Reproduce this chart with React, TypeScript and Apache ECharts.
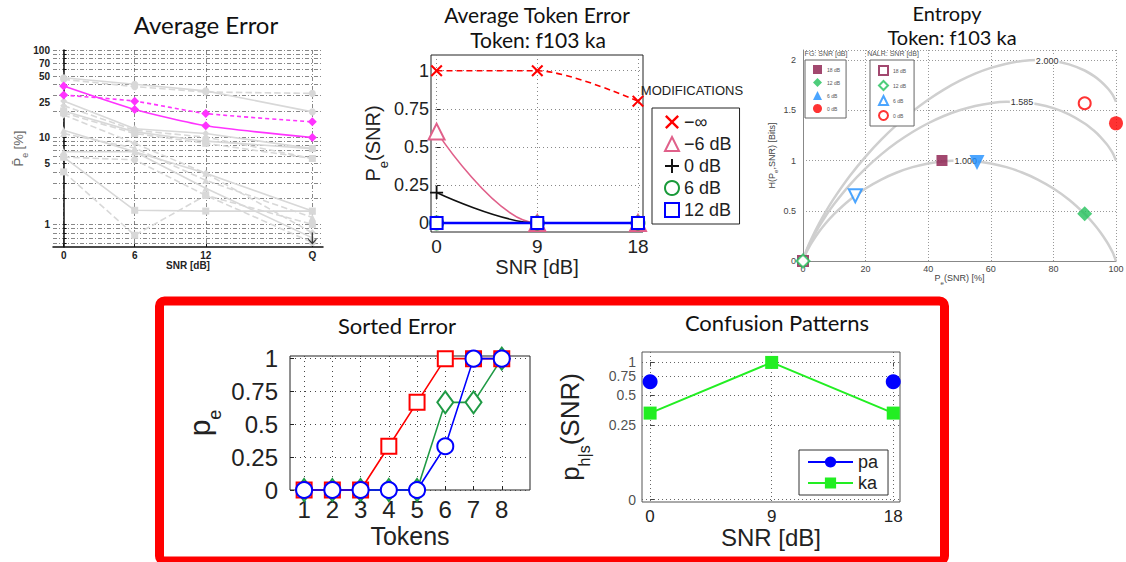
import React, { useEffect, useRef } from "react";
import * as echarts from "echarts";

// ---------------- Panel 1: Average Error ----------------
const avgSnr = [0, 6, 12, 21];
const avgSnrLabels = ["0", "6", "12", "Q"];
const avgYLabelTicks = [1, 5, 10, 25, 50, 70, 100];
const avgGridTicks = [0.6, 0.7, 0.8, 0.9, 1, 2, 3, 4, 5, 6, 7, 8, 9, 10, 20, 30, 40, 50, 60, 70, 80, 90, 100];
const avgMagentaSolid = [38.6, 20.8, 13.5, 9.9];
const avgMagentaDashed = [30.4, 25.9, 18.7, 15.0];
const avgGray1 = [48, 40.5, 34, 19.5];
const avgGray2 = [46, 38, 33, 31.8];
const avgGray3 = [26, 12.5, 11, 7.4];
const avgGray4 = [23, 12, 10, 5.7];
const avgGray5 = [20, 11.5, 9, 7.4];
const avgGray6 = [19, 11, 8.5, 5.7];
const avgGray7 = [12, 6.8, 3.85, 1.42];
const avgGray8 = [11, 7.5, 3.2, 1.2];
const avgGray9 = [6.8, 6.8, 2.6, 0.7];
const avgGray10 = [5.9, 5.5, 2.15, 0.62];
const avgGray11 = [5.9, 1.45, 1.42, 1.42];
const avgGray12 = [4.0, 0.75, 2.15, 1.0];
const avgGray13 = [18, 8.5, 3.85, 0.8];
const avgQuietArrow = [21, 0.69];

// ---------------- Panel 2: Average Token Error ----------------
const tokSnr = [0, 9, 18];
const tokTicks = [0, 0.25, 0.5, 0.75, 1];
const modInf = [1, 1, 0.8];
const modM6 = [0.6, 0, 0];
const mod0 = [0.2, 0, 0];
const mod6 = [0, 0, 0];
const mod12 = [0, 0, 0];

// ---------------- Panel 3: Entropy ----------------
const entX = [0, 1, 2, 3, 5, 7, 10, 15, 20, 25, 30, 35, 40, 45, 50, 55, 60, 65, 70, 75, 80, 85, 90, 93, 95, 97, 98, 99, 100];
const entH2 = [0, 0.081, 0.141, 0.194, 0.286, 0.366, 0.469, 0.61, 0.722, 0.811, 0.881, 0.934, 0.971, 0.993, 1.0, 0.993, 0.971, 0.934, 0.881, 0.811, 0.722, 0.61, 0.469, 0.366, 0.286, 0.194, 0.141, 0.081, 0];
const entH3 = [0, 0.091, 0.161, 0.224, 0.336, 0.436, 0.569, 0.76, 0.922, 1.061, 1.181, 1.284, 1.371, 1.443, 1.5, 1.543, 1.571, 1.584, 1.581, 1.561, 1.522, 1.46, 1.369, 1.296, 1.236, 1.164, 1.121, 1.071, 1.0];
const entH4 = [0, 0.097, 0.173, 0.242, 0.365, 0.477, 0.628, 0.848, 1.039, 1.207, 1.357, 1.489, 1.605, 1.706, 1.792, 1.865, 1.922, 1.964, 1.991, 2.0, 1.99, 1.957, 1.896, 1.84, 1.792, 1.731, 1.694, 1.65, 1.585];
const entCurveLabels = ["1.000", "1.585", "2.000"];
const entLabelAt = [[52, 1.0], [70, 1.581], [78, 1.995]];
const fg18 = [44.4, 1.0];
const fg12 = [90, 0.47];
const fg6 = [55.6, 0.98];
const fg0 = [100, 1.37];
const nalr18 = [0, 0];
const nalr12 = [0, 0];
const nalr6 = [16.7, 0.65];
const nalr0 = [90, 1.57];

// ---------------- Panel 4: Sorted Error ----------------
const tokens = [1, 2, 3, 4, 5, 6, 7, 8];
const sortedRed = [0, 0, 0, 0.333, 0.667, 1, 1, 1];
const sortedGreen = [0, 0, 0, 0, 0, 0.667, 0.667, 1];
const sortedBlue = [0, 0, 0, 0, 0, 0.333, 1, 1];

// ---------------- Panel 5: Confusion Patterns ----------------
const confSnr = [0, 9, 18];
const confTicks = [0, 0.25, 0.5, 0.75, 1];
const confTickLabels = ["0", "0.25", "0.5", "0.75", "1"];
const confPa: (number | null)[] = [0.67, null, 0.67];
const confKa = [0.333, 1, 0.333];

const SANS = '"Liberation Sans", Arial, Helvetica, sans-serif';
const TITLE = 'Lato, "Open Sans", sans-serif';
const X_PATH = "path://M0,1.2L1.2,0L5,3.8L8.8,0L10,1.2L6.2,5L10,8.8L8.8,10L5,6.2L1.2,10L0,8.8L3.8,5Z";
const PLUS_PATH = "path://M4.3,0H5.7V4.3H10V5.7H5.7V10H4.3V5.7H0V4.3H4.3Z";
const ARROW_PATH = "path://M4.4,0H5.6V8.2L8.4,5.4L9.2,6.2L5,10.4L0.8,6.2L1.6,5.4L4.4,8.2Z";

const C_OFF = 0.08;
const tr = (p: number) => Math.log10(p + C_OFF);
const CONF_X_MIN = -0.6;
const confLabelNudge = [0, 0, 1, 0, -2];

const pairs = (xs: number[], ys: (number | null)[]) =>
  xs.map((x, i) => (ys[i] === null ? [x, "-"] : [x, ys[i]]));

const subRich = (main: number, sub: number, color: string, drop: number) => ({
  a: { fontSize: main, fontFamily: SANS, color, verticalAlign: "bottom", padding: [0, 0, drop, 0] },
  s: { fontSize: sub, fontFamily: SANS, color, verticalAlign: "bottom", padding: [0, 0, 0, 0] },
});

function buildOption() {
  const grayData = [avgGray1, avgGray2, avgGray3, avgGray4, avgGray5, avgGray6, avgGray7, avgGray8, avgGray9, avgGray10, avgGray11, avgGray12, avgGray13];
  const grayLine = ["solid", "dashed", "solid", "dashed", "solid", "dashed", "solid", "dashed", "solid", "dashed", "solid", "dashed", "dashed"];
  const graySym = ["circle", "circle", "diamond", "diamond", "rect", "rect", "triangle", "triangle", "triangle", "circle", "rect", "rect", "diamond"];
  const GRAY = "#d8d8d8";
  const MAG = "#ff33ff";

  const dashDot = { color: "#555", width: 0.7, type: [4, 2, 1, 2] as any };
  const dotted = { color: "#888", width: 1, type: [1, 3] as any };

  const series: any[] = [];

  grayData.forEach((vals, i) => {
    series.push({
      type: "line", xAxisIndex: 0, yAxisIndex: 0, silent: true, z: 2,
      data: pairs(avgSnr, vals), symbol: graySym[i], symbolSize: 7,
      lineStyle: { color: GRAY, width: 1.6, type: grayLine[i] },
      itemStyle: { color: GRAY },
    });
  });
  series.push({
    type: "line", xAxisIndex: 0, yAxisIndex: 0, z: 4, smooth: 0.2,
    data: pairs(avgSnr, avgMagentaSolid), symbol: "diamond", symbolSize: 9,
    lineStyle: { color: MAG, width: 1.6 }, itemStyle: { color: MAG },
  });
  series.push({
    type: "line", xAxisIndex: 0, yAxisIndex: 0, z: 4, smooth: 0.2,
    data: pairs(avgSnr, avgMagentaDashed), symbol: "diamond", symbolSize: 9,
    lineStyle: { color: MAG, width: 1.6, type: [4, 3] }, itemStyle: { color: MAG },
  });
  series.push({
    type: "scatter", xAxisIndex: 0, yAxisIndex: 0, z: 5,
    data: [avgQuietArrow], symbol: ARROW_PATH, symbolSize: [9, 12],
    itemStyle: { color: "#111" },
  });

  // Panel 2
  series.push({
    name: "−∞", type: "line", xAxisIndex: 1, yAxisIndex: 1, z: 3,
    data: pairs(tokSnr, modInf), symbol: X_PATH, symbolSize: 12, smooth: 0.3,
    lineStyle: { color: "#ff0000", width: 1.6, type: [6, 4] },
    itemStyle: { color: "#ff0000", borderWidth: 0 },
  });
  series.push({
    name: "−6 dB", type: "line", xAxisIndex: 1, yAxisIndex: 1, z: 3,
    data: pairs(tokSnr, modM6), symbol: "emptyTriangle", symbolSize: 16, smooth: 0.35,
    lineStyle: { color: "#e0608a", width: 1.6 },
    itemStyle: { color: "#e0608a", borderWidth: 1.5 },
  });
  series.push({
    name: "0 dB", type: "line", xAxisIndex: 1, yAxisIndex: 1, z: 3,
    data: pairs(tokSnr, mod0), symbol: PLUS_PATH, symbolSize: 13, smooth: 0.35,
    lineStyle: { color: "#111", width: 1.6 },
    itemStyle: { color: "#111", borderWidth: 0 },
  });
  series.push({
    name: "6 dB", type: "line", xAxisIndex: 1, yAxisIndex: 1, z: 3,
    data: pairs(tokSnr, mod6), symbol: "emptyCircle", symbolSize: 13,
    lineStyle: { color: "#1a9a3a", width: 1.6 },
    itemStyle: { color: "#1a9a3a", borderWidth: 1.5 },
  });
  series.push({
    name: "12 dB", type: "line", xAxisIndex: 1, yAxisIndex: 1, z: 4,
    data: pairs(tokSnr, mod12), symbol: "emptyRect", symbolSize: 12,
    lineStyle: { color: "#0000ff", width: 2.5 },
    itemStyle: { color: "#0000ff", borderWidth: 2 },
  });

  // Panel 3 curves
  [entH2, entH3, entH4].forEach((ys, i) => {
    series.push({
      type: "line", xAxisIndex: 2, yAxisIndex: 2, z: 2, silent: true,
      data: pairs(entX, ys), symbol: "none", smooth: 0.25,
      lineStyle: { color: "#cfcfcf", width: 2.5 },
      markPoint: {
        symbol: "rect", symbolSize: [1, 1], itemStyle: { color: "rgba(0,0,0,0)" },
        label: { show: true, position: "inside", formatter: entCurveLabels[i], fontSize: 9, color: "#333", fontFamily: SANS, backgroundColor: "#fff", padding: [0, 1] },
        data: [{ coord: entLabelAt[i] }],
      },
    });
  });
  const entPts = [
    { name: "FG 18 dB", d: fg18, sym: "rect", size: 11, color: "#8b1a4b", rot: 0 },
    { name: "FG 12 dB", d: fg12, sym: "diamond", size: 15, color: "#22c05a", rot: 0 },
    { name: "FG 6 dB", d: fg6, sym: "triangle", size: 15, color: "#1e8fff", rot: 180 },
    { name: "FG 0 dB", d: fg0, sym: "circle", size: 14, color: "#ff0000", rot: 0 },
    { name: "NALR 18 dB", d: nalr18, sym: "emptyRect", size: 10, color: "#8b1a4b", rot: 0 },
    { name: "NALR 12 dB", d: nalr12, sym: "emptyDiamond", size: 13, color: "#22c05a", rot: 0 },
    { name: "NALR 6 dB", d: nalr6, sym: "emptyTriangle", size: 13, color: "#1e8fff", rot: 180 },
    { name: "NALR 0 dB", d: nalr0, sym: "emptyCircle", size: 12, color: "#ff0000", rot: 0 },
  ];
  entPts.forEach((p) => {
    series.push({
      name: p.name, type: "scatter", xAxisIndex: 2, yAxisIndex: 2, z: 5,
      data: [p.d], symbol: p.sym, symbolSize: p.size, symbolRotate: p.rot,
      itemStyle: { color: p.color, borderColor: p.color, borderWidth: p.sym.startsWith("empty") ? 2 : 0 },
    });
  });

  // Panel 4
  const sortedDefs = [
    { d: sortedGreen, color: "#1f9a45", sym: "emptyDiamond", size: [16, 22] },
    { d: sortedRed, color: "#ff0000", sym: "emptyRect", size: 15 },
    { d: sortedBlue, color: "#0000ff", sym: "emptyCircle", size: 16 },
  ];
  sortedDefs.forEach((s, i) => {
    series.push({
      type: "line", xAxisIndex: 3, yAxisIndex: 3, z: 3 + i, clip: false,
      data: pairs(tokens, s.d), symbol: s.sym, symbolSize: s.size,
      lineStyle: { color: s.color, width: 1.6 },
      itemStyle: { color: s.color, borderWidth: 2.5 },
    });
  });

  // Panel 5
  series.push({
    name: "pa", type: "line", xAxisIndex: 4, yAxisIndex: 4, z: 4, clip: false,
    data: confSnr.map((x, i) => (confPa[i] === null ? [x, "-"] : [x, tr(confPa[i] as number)])),
    symbol: "circle", symbolSize: 15,
    lineStyle: { color: "#0000ff", width: 2 }, itemStyle: { color: "#0000ff" },
  });
  series.push({
    name: "ka", type: "line", xAxisIndex: 4, yAxisIndex: 4, z: 3, clip: false,
    data: confSnr.map((x, i) => [x, tr(confKa[i])]),
    symbol: "rect", symbolSize: 13,
    lineStyle: { color: "#22ee22", width: 2 }, itemStyle: { color: "#22ee22" },
  });
  // Panel 5 y tick labels, placed through the axis scale
  series.push({
    type: "scatter", xAxisIndex: 4, yAxisIndex: 4, z: 1, silent: true, clip: false,
    data: confTicks.map((t, i) => ({
      value: [CONF_X_MIN, tr(t)],
      label: { offset: [0, confLabelNudge[i]] },
    })),
    symbolSize: 0.01, itemStyle: { color: "rgba(0,0,0,0)" },
    label: {
      show: true, position: "left", distance: 6, fontSize: 14, color: "#222", fontFamily: SANS,
      formatter: (p: any) => confTickLabels[p.dataIndex],
    },
    labelLayout: { hideOverlap: false },
  });

  const nb = { outerBoundsMode: "none", containLabel: false };
  const grid = [
    { left: 53, top: 50, width: 270, height: 197, ...nb },
    { left: 431, top: 55, width: 212, height: 177, show: true, borderColor: "#222", borderWidth: 1, ...nb },
    { left: 803, top: 50, width: 313, height: 211, ...nb },
    { left: 290, top: 356, width: 240, height: 134, show: true, borderColor: "#222", borderWidth: 1, ...nb },
    { left: 642, top: 352, width: 258, height: 150, show: true, borderColor: "#555", borderWidth: 1, ...nb },
  ];

  const xAxis = [
    {
      gridIndex: 0, type: "value", min: -0.9, max: 21.9,
      axisLine: { show: true, onZero: false, lineStyle: { color: "#111", width: 1.5 } },
      axisTick: { show: true, inside: true, length: 3, customValues: avgSnr, lineStyle: { color: "#111" } },
      axisLabel: { customValues: avgSnr, formatter: (v: number) => avgSnrLabels[avgSnr.indexOf(v)] ?? String(v), fontSize: 10, fontWeight: "bold", color: "#222", fontFamily: SANS, margin: 3, hideOverlap: false },
      splitLine: { show: true, lineStyle: dashDot },
      name: "SNR [dB]", nameLocation: "middle", nameGap: 10,
      nameTextStyle: { fontSize: 10, fontWeight: "bold", color: "#222", fontFamily: SANS },
    },
    {
      gridIndex: 1, type: "value", min: -0.5, max: 18.45,
      axisLine: { show: false },
      axisTick: { show: true, inside: true, length: 4, customValues: tokSnr, lineStyle: { color: "#222" } },
      axisLabel: { customValues: tokSnr, fontSize: 19, color: "#222", fontFamily: SANS, margin: 5, hideOverlap: false },
      splitLine: { show: true, lineStyle: dotted },
      name: "SNR [dB]", nameLocation: "middle", nameGap: 22,
      nameTextStyle: { fontSize: 20, color: "#222", fontFamily: SANS },
    },
    {
      gridIndex: 2, type: "value", min: 0, max: 100, interval: 20,
      axisLine: { show: true, onZero: false, lineStyle: { color: "#888", width: 1 } },
      axisTick: { show: false },
      axisLabel: { fontSize: 9, color: "#444", fontFamily: SANS, margin: 3 },
      splitLine: { show: true, lineStyle: { color: "#999", width: 1, type: [1, 2] } },
      name: "{a|P}{s|e}{a|(SNR) [%]}", nameLocation: "middle", nameGap: 10,
      nameTextStyle: { color: "#444", fontFamily: SANS, rich: subRich(9, 6, "#444", 3) },
    },
    {
      gridIndex: 3, type: "value", min: 0.5, max: 9,
      axisLine: { show: false },
      axisTick: { show: true, inside: true, length: 4, customValues: tokens, lineStyle: { color: "#222" } },
      axisLabel: { customValues: tokens, fontSize: 24, color: "#222", fontFamily: SANS, margin: 7, hideOverlap: false },
      splitLine: { show: true, lineStyle: { color: "#444", width: 1, type: [1, 4] } },
      name: "Tokens", nameLocation: "middle", nameGap: 33,
      nameTextStyle: { fontSize: 25, color: "#222", fontFamily: SANS },
    },
    {
      gridIndex: 4, type: "value", min: CONF_X_MIN, max: 18.5,
      axisLine: { show: false },
      axisTick: { show: true, inside: true, length: 4, customValues: confSnr, lineStyle: { color: "#444" } },
      axisLabel: { customValues: confSnr, fontSize: 17, color: "#222", fontFamily: SANS, margin: 6, hideOverlap: false },
      splitLine: { show: true, lineStyle: { color: "#666", width: 1, type: [1, 3] } },
      name: "SNR [dB]", nameLocation: "middle", nameGap: 23,
      nameTextStyle: { fontSize: 24, color: "#222", fontFamily: SANS },
    },
  ];

  const yAxis = [
    {
      gridIndex: 0, type: "log", logBase: 10, min: 0.55, max: 100,
      axisLine: { show: true, lineStyle: { color: "#111", width: 1.5 } },
      axisTick: { show: true, inside: true, length: 3, customValues: avgGridTicks, lineStyle: { color: "#111" } },
      axisLabel: { customValues: avgYLabelTicks, formatter: (v: number) => String(Math.round(v)), fontSize: 10, fontWeight: "bold", color: "#222", fontFamily: SANS, margin: 3, hideOverlap: false },
      splitLine: { show: true, lineStyle: dashDot },
      minorTick: { show: false }, minorSplitLine: { show: false },
      name: "{a|P̄}{s|e} {a|[%]}", nameLocation: "middle", nameGap: 19,
      nameTextStyle: { color: "#666", rich: subRich(13, 9, "#666", 4) },
    },
    {
      gridIndex: 1, type: "value", min: -0.059, max: 1.103,
      axisLine: { show: false },
      axisTick: { show: true, inside: true, length: 4, customValues: tokTicks, lineStyle: { color: "#222" } },
      axisLabel: { customValues: tokTicks, formatter: (v: number) => String(v), fontSize: 18, color: "#222", fontFamily: SANS, margin: 2, hideOverlap: false },
      splitLine: { show: true, lineStyle: dotted },
      name: "{a|P}{s|e}{a|(SNR)}", nameLocation: "middle", nameGap: 33,
      nameTextStyle: { rich: subRich(20, 13, "#222", 7) },
    },
    {
      gridIndex: 2, type: "value", min: 0, max: 2.1, interval: 0.5,
      axisLine: { show: true, onZero: false, lineStyle: { color: "#888", width: 1 } },
      axisTick: { show: false },
      axisLabel: { fontSize: 9, color: "#444", fontFamily: SANS, margin: 7, showMaxLabel: false },
      splitLine: { show: true, lineStyle: { color: "#999", width: 1, type: [1, 2] } },
      name: "{a|H(P}{s|e}{a|,SNR) [Bits]}", nameLocation: "middle", nameGap: 24,
      nameTextStyle: { rich: subRich(9, 6, "#444", 3) },
    },
    {
      gridIndex: 3, type: "value", min: 0, max: 1.02,
      axisLine: { show: false },
      axisTick: { show: true, inside: true, length: 4, customValues: tokTicks, lineStyle: { color: "#222" } },
      axisLabel: { customValues: tokTicks, formatter: (v: number) => String(v), fontSize: 24, color: "#222", fontFamily: SANS, margin: 12, hideOverlap: false },
      splitLine: { show: true, lineStyle: { color: "#444", width: 1, type: [1, 4] } },
      name: "{a|p}{s|e}", nameLocation: "middle", nameGap: 66,
      nameTextStyle: { rich: subRich(30, 18, "#222", 10) },
    },
    {
      gridIndex: 4, type: "value", min: tr(0) - 0.02, max: tr(1) + 0.086,
      axisLine: { show: false },
      axisTick: { show: true, inside: true, length: 4, customValues: confTicks.map(tr), lineStyle: { color: "#444" } },
      axisLabel: { show: false },
      splitLine: { show: true, lineStyle: { color: "#666", width: 1, type: [1, 3] } },
      name: "{a|p}{s|h|s}{a|(SNR)}", nameLocation: "middle", nameGap: 50,
      nameTextStyle: { rich: subRich(26, 16, "#222", 9) },
    },
  ];

  const legend = [
    {
      data: [
        { name: "−∞", icon: X_PATH },
        { name: "−6 dB", icon: "emptyTriangle" },
        { name: "0 dB", icon: PLUS_PATH },
        { name: "6 dB", icon: "emptyCircle" },
        { name: "12 dB", icon: "emptyRect" },
      ],
      orient: "vertical", left: 652, top: 108, selectedMode: false,
      backgroundColor: "#fff", borderColor: "#222", borderWidth: 1, borderRadius: 0,
      padding: [5, 8, 5, 12], itemGap: 4, itemWidth: 14, itemHeight: 14,
      textStyle: { fontSize: 18, color: "#222", fontFamily: SANS },
    },
    {
      data: ["FG 18 dB", "FG 12 dB", "FG 6 dB", "FG 0 dB"],
      formatter: (n: string) => n.replace(/^FG /, ""),
      orient: "vertical", left: 805, top: 60, selectedMode: false,
      backgroundColor: "#fff", borderColor: "#666", borderWidth: 1, borderRadius: 0,
      padding: [5, 6, 5, 8], itemGap: 4, itemWidth: 9, itemHeight: 9,
      textStyle: { fontSize: 5, color: "#555", fontFamily: SANS },
    },
    {
      data: ["NALR 18 dB", "NALR 12 dB", "NALR 6 dB", "NALR 0 dB"],
      formatter: (n: string) => n.replace(/^NALR /, ""),
      orient: "vertical", left: 870, top: 60, selectedMode: false,
      backgroundColor: "#fff", borderColor: "#666", borderWidth: 1, borderRadius: 0,
      padding: [5, 8, 5, 8], itemGap: 4, itemWidth: 9, itemHeight: 9,
      textStyle: { fontSize: 5, color: "#555", fontFamily: SANS },
    },
    {
      data: ["pa", "ka"],
      orient: "vertical", left: 799, top: 450, selectedMode: false,
      backgroundColor: "#fff", borderColor: "#333", borderWidth: 1, borderRadius: 0,
      padding: [3, 10, 3, 8], itemGap: 3, itemWidth: 45, itemHeight: 14,
      textStyle: { fontSize: 18, color: "#222", fontFamily: SANS },
    },
  ];

  const txt = (text: string, x: number, y: number, size: number, family = TITLE, color = "#111") => ({
    type: "text", x, y, silent: true,
    style: {
      text, font: `${size}px ${family}`, fill: color,
      align: "center", verticalAlign: "middle", textAlign: "center", textVerticalAlign: "middle",
    },
  });

  const graphic = [
    { type: "rect", z: 0, silent: true, shape: { x: 159.5, y: 301, width: 785, height: 260, r: 5 }, style: { fill: "none", stroke: "#ff0000", lineWidth: 9 } },
    txt("Average Error", 206, 24, 24),
    txt("Average Token Error", 537, 14, 21),
    txt("Token: f103 ka", 538, 39, 21),
    txt("Entropy", 947, 13, 20),
    txt("Token: f103 ka", 952, 37, 20),
    txt("Sorted Error", 397, 325, 22),
    txt("Confusion Patterns", 777, 322, 22),
    txt("MODIFICATIONS", 692, 90, 13, SANS, "#222"),
    txt("FG: SNR [dB]", 826, 53, 7, SANS, "#555"),
    txt("NALR: SNR [dB]", 893, 53, 7, SANS, "#555"),
  ];

  return { animation: false, backgroundColor: "#fff", grid, xAxis, yAxis, legend, graphic, series };
}

export default function App() {
  const ref = useRef<HTMLDivElement>(null);
  useEffect(() => {
    const chart = echarts.init(ref.current as HTMLDivElement, null, { renderer: "svg" });
    chart.setOption(buildOption() as any);
    return () => chart.dispose();
  }, []);
  return <div ref={ref} style={{ position: "fixed", left: 0, top: 0, width: 1126, height: 562, background: "#fff" }} />;
}
